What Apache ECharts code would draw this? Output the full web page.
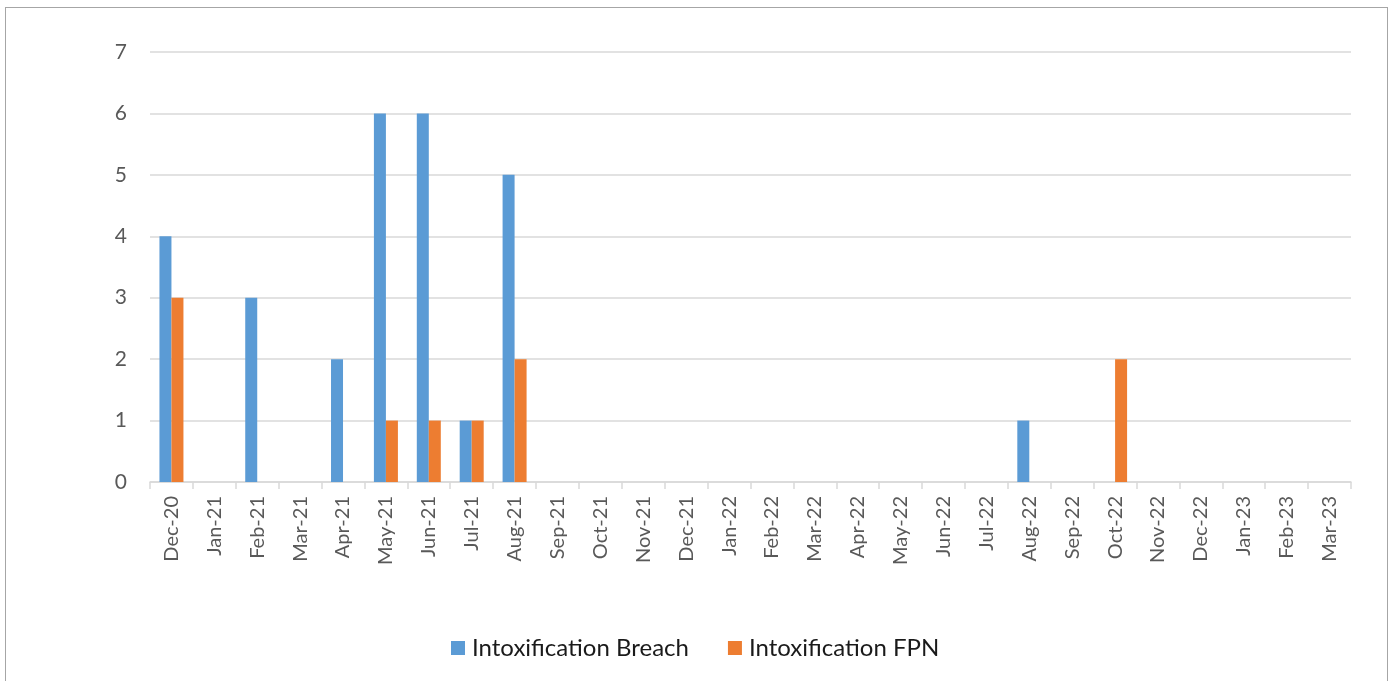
<!DOCTYPE html>
<html><head><meta charset="utf-8">
<script src="https://cdn.jsdelivr.net/npm/echarts@6/dist/echarts.min.js"></script>
<style>
html,body{margin:0;padding:0;background:#fff;}
#frame{position:absolute;left:5px;top:7px;width:1383px;height:690px;border:1.5px solid #a6a6a6;box-sizing:border-box;}
#c{position:absolute;left:0;top:0;width:1397px;height:681px;}
</style></head>
<body>
<div id="frame"></div>
<div id="c"></div>
<script>
var categories = ["Dec-20","Jan-21","Feb-21","Mar-21","Apr-21","May-21","Jun-21","Jul-21","Aug-21","Sep-21","Oct-21","Nov-21","Dec-21","Jan-22","Feb-22","Mar-22","Apr-22","May-22","Jun-22","Jul-22","Aug-22","Sep-22","Oct-22","Nov-22","Dec-22","Jan-23","Feb-23","Mar-23"];
var breach = [4,0,3,0,2,6,6,1,5,0,0,0,0,0,0,0,0,0,0,0,1,0,0,0,0,0,0,0];
var fpn    = [3,0,0,0,0,1,1,1,2,0,0,0,0,0,0,0,0,0,0,0,0,0,2,0,0,0,0,0];
var yTicks = [0,1,2,3,4,5,6,7];

var chart = echarts.init(document.getElementById('c'));
var font = 'Lato, "Open Sans", sans-serif';
chart.setOption({
  animation:false,
  textStyle:{fontFamily:font},
  grid:{left:150,right:46,top:52,bottom:199,containLabel:false},
  legend:{
    top:631,left:446,itemWidth:14,itemHeight:14,itemGap:39,icon:'rect',
    textStyle:{fontSize:24,color:'#1a1a1a',fontFamily:font,padding:[0,0,0,2]},
    data:['Intoxification Breach','Intoxification FPN']
  },
  xAxis:{
    type:'category',data:categories,
    axisLine:{lineStyle:{color:'#d9d9d9',width:1.5}},
    axisTick:{show:true,length:7,lineStyle:{color:'#d9d9d9',width:1.5}},
    axisLabel:{rotate:90,fontSize:20,color:'#595959',margin:14,interval:0,fontFamily:font}
  },
  yAxis:{
    type:'value',min:yTicks[0],max:yTicks[yTicks.length-1],interval:1,
    axisLine:{show:false},axisTick:{show:false},
    splitLine:{lineStyle:{color:'#d9d9d9',width:1.5}},
    axisLabel:{fontSize:21,color:'#595959',margin:23,fontFamily:font}
  },
  series:[
    {name:'Intoxification Breach',type:'bar',data:breach,barWidth:12,barGap:'0%',itemStyle:{color:'#5b9bd5'}},
    {name:'Intoxification FPN',type:'bar',data:fpn,barWidth:12,barGap:'0%',itemStyle:{color:'#ed7d31'}}
  ]
});
</script>
</body></html>
